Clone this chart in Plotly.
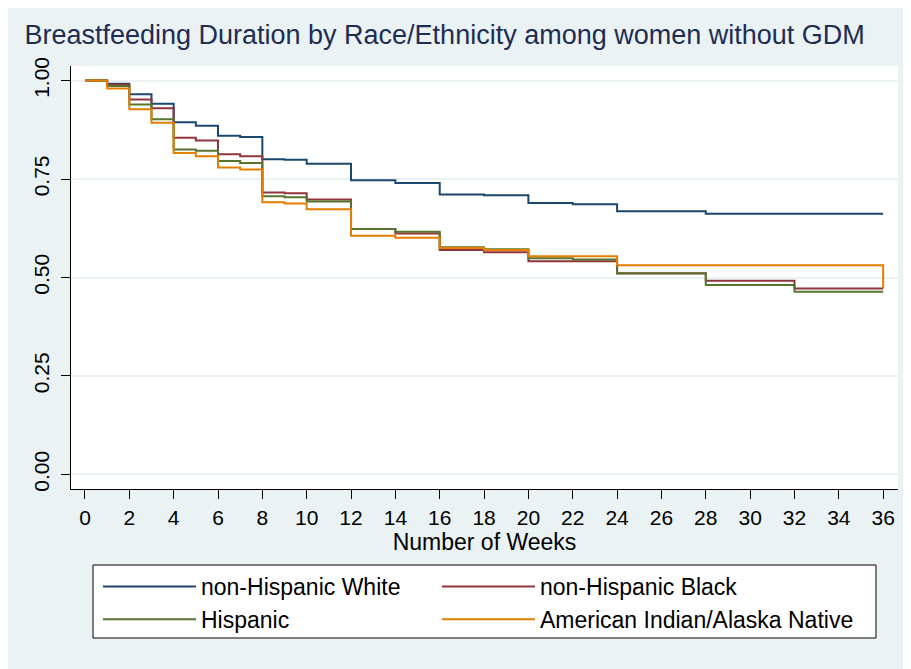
import plotly.graph_objects as go

weeks = [0, 1, 2, 3, 4, 5, 6, 7, 8, 9, 10, 12, 14, 16, 18, 20, 22, 24, 28, 32, 36]

nh_white = [1.000, 0.992, 0.965, 0.941, 0.894, 0.885, 0.860, 0.857, 0.800, 0.799, 0.789,
            0.747, 0.740, 0.711, 0.709, 0.689, 0.686, 0.668, 0.662, 0.662, 0.662]
nh_black = [1.000, 0.990, 0.952, 0.930, 0.855, 0.848, 0.813, 0.808, 0.716, 0.714, 0.698,
            0.623, 0.612, 0.570, 0.564, 0.541, 0.541, 0.511, 0.492, 0.472, 0.472]
hispanic = [1.000, 0.986, 0.939, 0.902, 0.825, 0.822, 0.796, 0.791, 0.706, 0.704, 0.693,
            0.623, 0.616, 0.577, 0.572, 0.549, 0.546, 0.510, 0.481, 0.464, 0.464]
am_indian = [1.000, 0.980, 0.927, 0.893, 0.816, 0.808, 0.779, 0.774, 0.691, 0.688, 0.673,
             0.606, 0.601, 0.575, 0.570, 0.554, 0.554, 0.531, 0.531, 0.531, 0.473]

# (name, values, colour, legend column)
series = [
    ("non-Hispanic White", nh_white, "#1A476F", "legend"),
    ("non-Hispanic Black", nh_black, "#90353B", "legend2"),
    ("Hispanic", hispanic, "#55752F", "legend"),
    ("American Indian/Alaska Native", am_indian, "#E37E00", "legend2"),
]

x_ticks = list(range(0, 37, 2))
y_ticks = [0.0, 0.25, 0.5, 0.75, 1.0]
y_tick_text = ["0.00", "0.25", "0.50", "0.75", "1.00"]

FONT = "Liberation Sans, Arial, sans-serif"
W, H = 911, 669
L, R, T, B = 63, 890, 58, 481  # plot area in figure pixels
PW, PH = R - L, B - T


def px_x(fx):
    return (fx - L) / PW


def px_y(fy):
    return (B - fy) / PH


fig = go.Figure()
for name, vals, col, lg in series:
    fig.add_trace(go.Scatter(x=weeks, y=vals, name=name, mode="lines", legend=lg,
                             line=dict(color=col, width=2, shape="hv")))

leg_common = dict(orientation="v", xref="container", yref="container",
                  xanchor="left", yanchor="top", bgcolor="rgba(0,0,0,0)",
                  borderwidth=0, font=dict(size=23, family=FONT),
                  traceorder="normal", itemwidth=93)

fig.update_layout(
    width=W, height=H,
    paper_bgcolor="#EAF2F3", plot_bgcolor="white",
    margin=dict(l=L, r=W - R, t=T, b=H - B, autoexpand=False),
    font=dict(family=FONT, color="black", size=21),
    title=dict(text="Breastfeeding Duration by Race/Ethnicity among women without GDM",
               x=0.018, xanchor="left", y=1 - 27 / H, yanchor="middle",
               font=dict(size=27, color="#1E2D53", family=FONT)),
    showlegend=True,
    legend=dict(x=90 / W, y=1 - 557 / H, **leg_common),
    legend2=dict(x=429 / W, y=1 - 557 / H, **leg_common),
    shapes=[dict(type="rect", xref="paper", yref="paper", layer="below",
                 x0=px_x(85), x1=px_x(868), y0=px_y(557), y1=px_y(630),
                 fillcolor="white", line=dict(color="black", width=1))],
)

fig.update_xaxes(range=[-0.63, 36.67], tickvals=x_ticks, showgrid=False, zeroline=False,
                 showline=True, linecolor="black", linewidth=1,
                 ticks="outside", ticklen=9, tickcolor="black", ticklabelstandoff=1,
                 tickfont=dict(size=21),
                 title=dict(text="Number of Weeks", font=dict(size=23), standoff=0))
fig.update_yaxes(range=[-0.037, 1.037], tickvals=y_ticks, ticktext=y_tick_text,
                 tickangle=-90, showgrid=True, gridcolor="#EAF2F3", gridwidth=1.5,
                 zeroline=False, showline=True, linecolor="black", linewidth=1,
                 ticks="outside", ticklen=9, tickcolor="black", ticklabelstandoff=4,
                 tickfont=dict(size=21))

fig.write_html("out.html")
